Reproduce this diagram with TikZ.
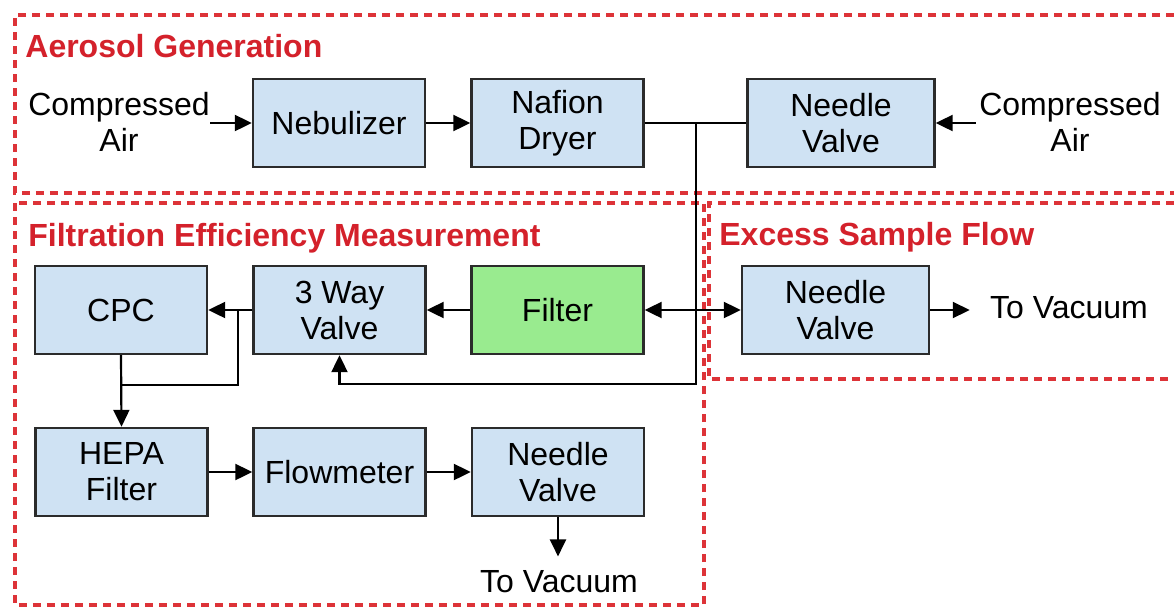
\documentclass[tikz,border=0pt]{standalone}
\usepackage{fontspec}
\setmainfont{Liberation Sans}
\usetikzlibrary{arrows.meta}
\definecolor{boxblue}{HTML}{CFE2F3}
\definecolor{boxgreen}{HTML}{99EB8F}
\definecolor{titlered}{HTML}{D4212B}
\definecolor{dashred}{HTML}{DD3338}
\definecolor{edgegray}{HTML}{2B2B2B}
\begin{document}
\begin{tikzpicture}[x=0.5pt,y=-0.5pt,
 box/.style={draw=edgegray, line width=1.2pt, fill=boxblue, minimum width=86pt, minimum height=44pt, inner sep=0pt, align=center, font=\fontsize{16}{18}\selectfont},
 widebox/.style={box, minimum width=93.5pt},
 greenbox/.style={box, fill=boxgreen},
 lbl/.style={inner sep=0pt, align=center, font=\fontsize{16}{18}\selectfont},
 ttl/.style={inner sep=0pt, anchor=west, text=titlered, font=\fontsize{16}{18}\selectfont\bfseries},
 region/.style={draw=dashred, line width=1.7pt, dash pattern=on 4.2pt off 2.8pt},
 conn/.style={draw=black, line width=1.1pt},
 arr/.style={conn, -{Triangle[length=8.5pt,width=8pt]}},
 dblarr/.style={conn, {Triangle[length=8.5pt,width=8pt]}-{Triangle[length=8.5pt,width=8pt]}},
]
\fill[white] (0,0) rectangle (1174,612);
\useasboundingbox (0,0) rectangle (1174,612);

% regions
\draw[region] (1174,15) -- (15,15) -- (15,193) -- (1174,193);
\draw[region] (15,203) rectangle (704,605);
\draw[region] (1174,203) -- (709,203) -- (709,379) -- (1174,379);

% titles
\node[ttl] (t1) at (25,46) {Aerosol Generation};
\node[ttl] (t2) at (28,238) {Filtration Efficiency Measurement};
\node[ttl] (t3) at (719,237) {Excess Sample Flow};

% top row
\node[lbl] (ca1) at (119,122) {Compressed\\Air};
\node[box] (neb) at (339,123) {Nebulizer};
\node[box] (naf) at (557.5,123) {Nafion\\Dryer};
\node[widebox] (nvtop) at (841,123) {Needle\\Valve};
\node[lbl, inner xsep=1.5pt] (ca2) at (1070,122) {Compressed\\Air};

% middle row
\node[box] (cpc) at (121,310) {CPC};
\node[box] (way3) at (339.5,310) {3 Way\\Valve};
\node[greenbox] (filter) at (557.5,310) {Filter};
\node[widebox] (nvex) at (835.5,310) {Needle\\Valve};
\node[lbl, inner xsep=10pt] (tv1) at (1069,308) {To Vacuum};

% bottom row
\node[box] (hepa) at (121.5,472) {HEPA\\Filter};
\node[box] (flow) at (339.5,472) {Flowmeter};
\node[box] (nvbot) at (558,472) {Needle\\Valve};
\node[lbl, inner ysep=7pt] (tv2) at (559,582) {To Vacuum};

% junction coordinates
\coordinate (j) at (696,123);
\coordinate (jb) at (696,384);
\coordinate (k) at (238,310);
\coordinate (kb) at (238,385);

% connectors
\draw[arr] (neb.west -| ca1.east) -- (neb.west);
\draw[arr] (neb.east) -- (naf.west);
\draw[arr] (nvtop.east -| ca2.west) -- (nvtop.east);
\draw[conn] (naf.east) -- (nvtop.west);
\draw[arr] (j) -- (jb) -| (way3.south);
\draw[dblarr] (filter.east) -- (nvex.west);
\draw[arr] (filter.west) -- (way3.east);
\draw[arr] (way3.west) -- (cpc.east);
\draw[conn] (k) -- (kb) -- (kb -| cpc.south);
\draw[arr] (cpc.south) -- (hepa.north);
\draw[arr] (hepa.east) -- (flow.west);
\draw[arr] (flow.east) -- (nvbot.west);
\draw[arr] (nvbot.south) -- (nvbot.south |- tv2.north);
\draw[arr] (nvex.east) -- (nvex.east -| tv1.west);
\end{tikzpicture}
\end{document}
